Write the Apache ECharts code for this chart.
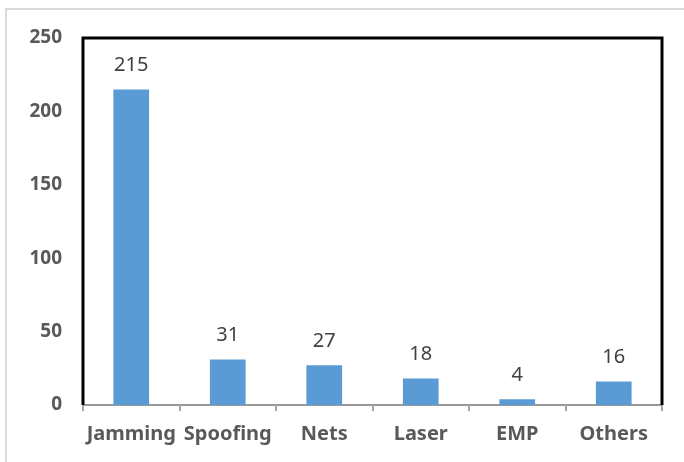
<!DOCTYPE html>
<html>
<head>
<meta charset="utf-8">
<script src="https://cdn.jsdelivr.net/npm/echarts@6/dist/echarts.min.js"></script>
<style>
html,body{margin:0;padding:0;background:#fff;}
#c{width:684px;height:462px;}
</style>
</head>
<body>
<div id="c"></div>
<script>
var categories = ["Jamming", "Spoofing", "Nets", "Laser", "EMP", "Others"];
var counts = [215, 31, 27, 18, 4, 16];
var yTicks = [0, 50, 100, 150, 200, 250];

var chart = echarts.init(document.getElementById('c'), null, {renderer: 'canvas'});
var FONT = '"Noto Sans", sans-serif';
chart.setOption({
  animation: false,
  backgroundColor: '#fff',
  grid: {left: 83, right: 22, top: 38, bottom: 57, containLabel: false},
  xAxis: {
    type: 'category',
    data: categories,
    axisLine: {show: true, lineStyle: {color: '#999999', width: 2}},
    axisTick: {show: true, length: 6, lineStyle: {color: '#a6a6a6', width: 2}},
    axisLabel: {interval: 0, hideOverlap: false, color: '#595959', fontFamily: FONT, fontWeight: 'bold', fontSize: 20, margin: 19}
  },
  yAxis: {
    type: 'value',
    min: yTicks[0],
    max: yTicks[yTicks.length - 1],
    interval: 50,
    axisLine: {show: false},
    axisTick: {show: false},
    splitLine: {show: false},
    axisLabel: {color: '#595959', fontFamily: FONT, fontWeight: 'bold', fontSize: 19, margin: 21}
  },
  series: [{
    type: 'bar',
    data: counts,
    barWidth: '37%',
    itemStyle: {color: '#5B9BD5'},
    label: {show: true, position: 'top', distance: 14, color: '#404040', fontFamily: FONT, fontSize: 20}
  }]
});

var rect = chart.getModel().getComponent('grid').coordinateSystem.getRect();
chart.setOption({
  graphic: [
    {type: 'rect', shape: {x: 6, y: 9, width: 800, height: 600}, style: {fill: 'none', stroke: '#d9d9d9', lineWidth: 2}, z: -1},
    {type: 'polyline', shape: {points: [[rect.x, rect.y + rect.height], [rect.x, rect.y], [rect.x + rect.width, rect.y], [rect.x + rect.width, rect.y + rect.height]]},
     style: {stroke: '#000', lineWidth: 3, fill: 'none'}, z: 10}
  ]
});
</script>
</body>
</html>
